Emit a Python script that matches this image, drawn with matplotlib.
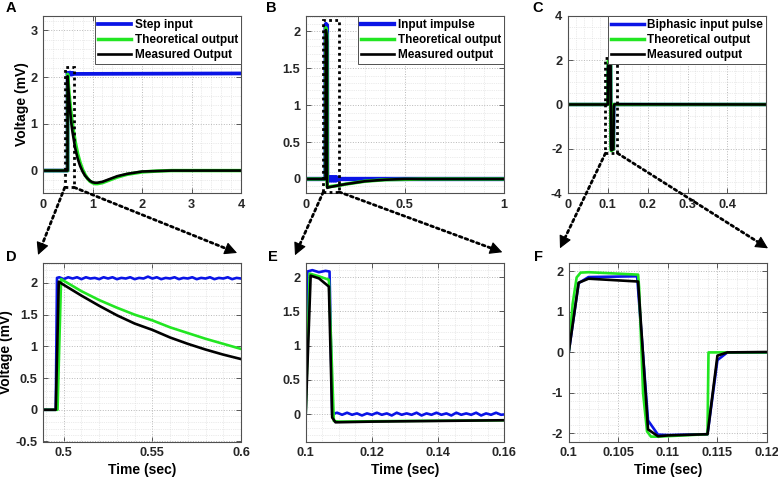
import numpy as np
import matplotlib
matplotlib.use('Agg')
import matplotlib.pyplot as plt
from matplotlib.ticker import AutoMinorLocator, MultipleLocator
from matplotlib.patches import Rectangle, ConnectionPatch, FancyArrowPatch
from matplotlib.transforms import IdentityTransform

plt.rcParams['font.family'] = ['Liberation Sans', 'DejaVu Sans']
plt.rcParams['font.weight'] = 'bold'
plt.rcParams['axes.labelweight'] = 'bold'

# ---- data ----
# step response (A, D)
step_t = [0, 0.4955, 0.4962]
step_v = [0, 0, 2.08]
step_rip_t = np.round(np.arange(0.4975, 0.6001, 0.0025), 4)
step_rip_v = [2.09, 2.06, 2.09, 2.07, 2.09, 2.06, 2.09, 2.07, 2.08, 2.06,
              2.09, 2.07, 2.09, 2.06, 2.08, 2.07, 2.09, 2.06, 2.08, 2.07,
              2.10, 2.07, 2.09, 2.06, 2.08, 2.07, 2.09, 2.06, 2.08, 2.07,
              2.09, 2.06, 2.08, 2.07, 2.09, 2.06, 2.08, 2.07, 2.09, 2.06, 2.08, 2.07]
step_tail_t = [4.0]
step_tail_v = [2.08]

step_theo_t = [0, 0.4965, 0.4985, 0.51, 0.52, 0.53, 0.54, 0.55, 0.56, 0.57, 0.58,
               0.59, 0.6, 0.65, 0.7, 0.75, 0.8, 0.85, 0.9, 0.95, 1.0, 1.05, 1.1,
               1.2, 1.3, 1.4, 1.5, 1.7, 2.0, 2.3, 2.6, 3.0, 4.0]
step_theo_v = [0, 0, 2.06, 1.87, 1.73, 1.61, 1.50, 1.41, 1.30, 1.21, 1.12,
               1.04, 0.96, 0.62, 0.36, 0.17, 0.02, -0.09, -0.17, -0.23, -0.26, -0.28, -0.28,
               -0.26, -0.22, -0.18, -0.14, -0.08, -0.03, -0.01, 0, 0, 0]

step_meas_t = [0, 0.4955, 0.4972, 0.5, 0.51, 0.52, 0.53, 0.54, 0.55, 0.56, 0.57, 0.58,
               0.59, 0.6, 0.65, 0.7, 0.75, 0.8, 0.85, 0.9, 0.95, 1.0, 1.05, 1.1,
               1.2, 1.3, 1.4, 1.5, 1.7, 2.0, 2.3, 2.6, 3.0, 4.0]
step_meas_v = [0, 0, 2.02, 1.97, 1.80, 1.64, 1.49, 1.36, 1.26, 1.14, 1.04, 0.95,
               0.87, 0.80, 0.48, 0.26, 0.10, -0.02, -0.11, -0.17, -0.22, -0.25, -0.26, -0.26,
               -0.24, -0.20, -0.16, -0.12, -0.07, -0.02, -0.01, 0, 0, 0]

# impulse response (B, E)
imp_t = [0, 0.1, 0.1005, 0.102, 0.104, 0.106, 0.1072, 0.108]
imp_v = [0, 0, 2.08, 2.10, 2.07, 2.09, 2.08, 0.0]
imp_rip_t = np.round(np.arange(0.1095, 0.1601, 0.0015), 4)
imp_rip_v = [0.02, -0.01, 0.02, -0.01, 0.01, -0.02, 0.01, -0.01, 0.02, -0.01,
             0.01, -0.02, 0.02, -0.01, 0.01, -0.01, 0.02, -0.02, 0.01, -0.01,
             0.02, -0.01, 0.01, -0.02, 0.02, -0.01, 0.01, -0.01, 0.02, -0.02,
             0.01, -0.01, 0.02, -0.01]
imp_tail_t = [0.161, 1.0]
imp_tail_v = [0.0, 0.0]

imp_theo_t = [0, 0.1, 0.1012, 0.104, 0.107, 0.1085, 0.11, 0.13, 0.16, 0.2, 0.3, 0.4, 0.6, 1.0]
imp_theo_v = [0, 0, 2.05, 2.01, 1.96, -0.10, -0.11, -0.10, -0.09, -0.07, -0.03, -0.01, 0, 0]

imp_meas_t = [0, 0.1, 0.1015, 0.104, 0.107, 0.108, 0.109, 0.12, 0.14, 0.16, 0.2,
              0.25, 0.3, 0.4, 0.5, 0.7, 1.0]
imp_meas_v = [0, 0, 2.02, 1.98, 1.86, -0.05, -0.12, -0.11, -0.10, -0.09, -0.07,
              -0.05, -0.03, -0.01, 0, 0, 0]

# biphasic response (C, F)
bi_t = [0, 0.1, 0.101, 0.102, 0.1069, 0.108, 0.109, 0.11, 0.114, 0.115, 0.116, 0.12, 0.5]
bi_v = [0, 0, 1.71, 1.86, 1.88, -1.68, -2.03, -2.04, -2.02, -0.19, 0, 0, 0]

bi_theo_t = [0, 0.1, 0.1004, 0.1008, 0.1012, 0.102, 0.107, 0.1071, 0.1075, 0.1079,
             0.1083, 0.109, 0.114, 0.1141, 0.12, 0.5]
bi_theo_v = [0, 0, 1.2, 1.85, 1.97, 1.98, 1.92, 1.6, -1.0, -1.95,
             -2.08, -2.08, -2.02, 0, 0, 0]

bi_meas_t = [0, 0.1, 0.101, 0.102, 0.107, 0.108, 0.109, 0.11, 0.114, 0.115, 0.116, 0.12, 0.5]
bi_meas_v = [0, 0, 1.72, 1.82, 1.75, -1.90, -2.07, -2.05, -2.02, -0.08, 0, 0.01, 0]

step_in_t = list(step_t) + list(step_rip_t) + step_tail_t
step_in_v = list(step_v) + list(step_rip_v) + step_tail_v
imp_in_t = list(imp_t) + list(imp_rip_t) + imp_tail_t
imp_in_v = list(imp_v) + list(imp_rip_v) + imp_tail_v

BLUE = '#0a14e6'
GREEN = '#22e622'
BLACK = '#000000'
LW = 1.9

W, H = 778, 480
fig = plt.figure(figsize=(W / 100, H / 100), dpi=100)


def px_axes(l, t, r, b):
    return fig.add_axes([l / W, 1 - b / H, (r - l) / W, (b - t) / H])


def style(ax, xlim, ylim, xmaj, ymaj, xsub, ysub):
    ax.set_xlim(*xlim)
    ax.set_ylim(*ylim)
    ax.xaxis.set_major_locator(MultipleLocator(xmaj))
    ax.yaxis.set_major_locator(MultipleLocator(ymaj))
    ax.xaxis.set_minor_locator(AutoMinorLocator(xsub))
    ax.yaxis.set_minor_locator(AutoMinorLocator(ysub))
    ax.grid(True, which='major', linestyle=':', color='#b8b8b8', lw=0.7)
    ax.grid(True, which='minor', linestyle=':', color='#d8d8d8', lw=0.5)
    ax.set_axisbelow(True)
    ax.tick_params(which='both', direction='in', top=True, right=True,
                   labelsize=9.2, color='#404040', pad=4)
    ax.tick_params(which='major', length=3.5, width=0.6)
    ax.tick_params(which='minor', length=0)
    for s in ax.spines.values():
        s.set_color('#505050')
        s.set_linewidth(0.8)
    for lab in ax.get_xticklabels() + ax.get_yticklabels():
        lab.set_fontweight('bold')
        lab.set_color('#262626')


def fmt(ax):
    ax.xaxis.set_major_formatter(plt.FuncFormatter(lambda v, p: ('%g' % round(v, 6))))
    ax.yaxis.set_major_formatter(plt.FuncFormatter(lambda v, p: ('%g' % round(v, 6))))


def leg(ax, labels):
    lg = ax.legend(labels, loc='upper right', borderaxespad=0,
                   handlelength=2.8, handletextpad=0.3, labelspacing=0.25,
                   borderpad=0.25, fancybox=False, framealpha=1,
                   edgecolor='#505050', prop={'weight': 'bold', 'size': 8.5})
    lg.get_frame().set_linewidth(0.7)
    lg.set_zorder(5)


def panel_letter(x, y, s):
    fig.text(x / W, 1 - y / H, s, fontsize=10.5, fontweight='bold', va='center', ha='left')


dotted = (0, (1, 1.2))

# ---- A ----
axA = px_axes(43, 16, 241, 193)
axA.plot(step_in_t, step_in_v, color=BLUE, lw=LW + 0.8)
axA.plot(step_theo_t, step_theo_v, color=GREEN, lw=LW + 0.6)
axA.plot(step_meas_t, step_meas_v, color=BLACK, lw=LW)
style(axA, (0, 4), (-0.48, 3.31), 1, 1, 5, 5)
fmt(axA)
axA.set_ylabel('Voltage (mV)', fontsize=10, fontweight='bold', labelpad=1)
leg(axA, ['Step input', 'Theoretical output', 'Measured Output'])
rA = Rectangle((0.44, -0.36), 0.19, 2.57, fill=False, ls=dotted, lw=2, ec='k', zorder=4, clip_on=False)
axA.add_patch(rA)

# ---- B ----
axB = px_axes(305.7, 16, 504, 193)
axB.plot(imp_in_t, imp_in_v, color=BLUE, lw=LW + 1.2)
axB.plot(imp_theo_t, imp_theo_v, color=GREEN, lw=LW + 0.6)
axB.plot(imp_meas_t, imp_meas_v, color=BLACK, lw=LW)
style(axB, (0, 1), (-0.19, 2.21), 0.5, 0.5, 5, 5)
fmt(axB)
leg(axB, ['Input impulse', 'Theoretical output', 'Measured output'])
rB = Rectangle((0.089, -0.175), 0.079, 2.33, fill=False, ls=dotted, lw=2, ec='k', zorder=4, clip_on=False)
axB.add_patch(rB)

# ---- C ----
axC = px_axes(568, 16, 766, 193)
axC.plot(bi_t, bi_v, color=BLUE, lw=LW + 0.6)
axC.plot(bi_theo_t, bi_theo_v, color=GREEN, lw=LW + 0.6)
axC.plot(bi_meas_t, bi_meas_v, color=BLACK, lw=LW)
style(axC, (0, 0.497), (-4, 4), 0.1, 2, 5, 4)
fmt(axC)
leg(axC, ['Biphasic input pulse', 'Theoretical output', 'Measured output'])
rC = Rectangle((0.094, -2.2), 0.03, 4.3, fill=False, ls=dotted, lw=2, ec='k', zorder=4, clip_on=False)
axC.add_patch(rC)

# ---- D ----
axD = px_axes(43, 263.3, 241, 441.5)
axD.plot(step_in_t, step_in_v, color=BLUE, lw=LW)
axD.plot(step_theo_t, step_theo_v, color=GREEN, lw=LW)
axD.plot(step_meas_t, step_meas_v, color=BLACK, lw=LW)
style(axD, (0.4883, 0.6), (-0.5, 2.31), 0.05, 0.5, 5, 5)
fmt(axD)
axD.set_ylabel('Voltage (mV)', fontsize=10, fontweight='bold', labelpad=2)
axD.set_xlabel('Time (sec)', fontsize=10, fontweight='bold', labelpad=3)

# ---- E ----
axE = px_axes(305.7, 263.3, 504.3, 441.5)
axE.plot(imp_in_t, imp_in_v, color=BLUE, lw=LW)
axE.plot(imp_theo_t, imp_theo_v, color=GREEN, lw=LW)
axE.plot(imp_meas_t, imp_meas_v, color=BLACK, lw=LW)
style(axE, (0.1, 0.16), (-0.4, 2.2), 0.02, 0.5, 4, 5)
fmt(axE)
axE.set_xlabel('Time (sec)', fontsize=10, fontweight='bold', labelpad=3)

# ---- F ----
axF = px_axes(568.7, 263.3, 767, 441.5)
axF.plot(bi_t, bi_v, color=BLUE, lw=LW)
axF.plot(bi_theo_t, bi_theo_v, color=GREEN, lw=LW)
axF.plot(bi_meas_t, bi_meas_v, color=BLACK, lw=LW)
style(axF, (0.1, 0.12), (-2.2, 2.2), 0.005, 1, 5, 5)
fmt(axF)
axF.set_xlabel('Time (sec)', fontsize=10, fontweight='bold', labelpad=3)

# ---- zoom arrows: dotted shaft + solid head ----
arrows = [
    (axA, (0.44, -0.36), axD, (-0.025, 1.047)),
    (axA, (0.63, -0.36), axD, (0.98, 1.058)),
    (axB, (0.089, -0.175), axE, (-0.054, 1.045)),
    (axB, (0.168, -0.175), axE, (0.99, 1.062)),
    (axC, (0.094, -2.2), axF, (-0.044, 1.084)),
    (axC, (0.124, -2.2), axF, (1.005, 1.084)),
]
for a1, p1, a2, p2 in arrows:
    start = a1.transData.transform(p1)
    tip = a2.transAxes.transform(p2)
    d = tip - start
    d = d / np.hypot(*d)
    base = tip - 8 * d
    shaft = FancyArrowPatch(start, base, transform=IdentityTransform(), arrowstyle='-',
                            linestyle=dotted, lw=2, color='k', shrinkA=0, shrinkB=0, zorder=10)
    head = FancyArrowPatch(base - 1 * d, tip, transform=IdentityTransform(),
                           arrowstyle='-|>,head_length=0.55,head_width=0.28',
                           lw=0.8, color='k', mutation_scale=14, shrinkA=0, shrinkB=0, zorder=10)
    fig.add_artist(shaft)
    fig.add_artist(head)

panel_letter(6, 8, 'A')
panel_letter(266, 8, 'B')
panel_letter(532, 8, 'C')
panel_letter(6, 257, 'D')
panel_letter(268, 257, 'E')
panel_letter(534, 257, 'F')

fig.savefig('out.png', dpi=100)
